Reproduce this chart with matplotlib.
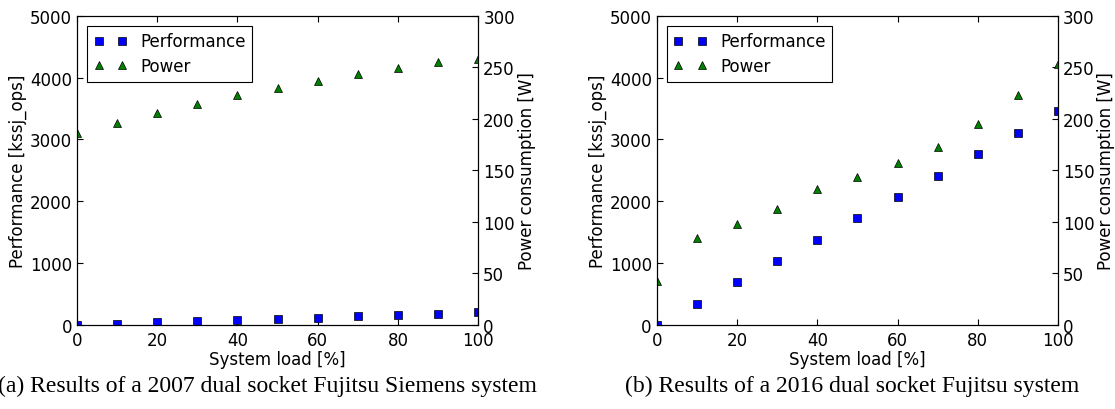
import matplotlib
matplotlib.use("Agg")
import matplotlib.pyplot as plt

load = [0, 10, 20, 30, 40, 50, 60, 70, 80, 90, 100]

perf_2007 = [0, 22, 43, 59, 76, 97, 119, 140, 162, 184, 205]
power_2007 = [186, 196, 206, 214, 223, 230, 237, 244, 249, 255, 258]

perf_2016 = [0, 346, 692, 1032, 1378, 1724, 2070, 2416, 2757, 3108, 3454]
power_2016 = [43, 84, 98, 113, 132, 144, 157, 173, 195, 223, 253]

captions = ["(a) Results of a 2007 dual socket Fujitsu Siemens system",
            "(b) Results of a 2016 dual socket Fujitsu system"]

plt.rcParams["font.family"] = "DejaVu Sans"
plt.rcParams["font.size"] = 12
plt.rcParams["xtick.direction"] = "in"
plt.rcParams["ytick.direction"] = "in"
plt.rcParams["xtick.top"] = True
plt.rcParams["xtick.major.size"] = 4
plt.rcParams["ytick.major.size"] = 4

fig = plt.figure(figsize=(11.15, 4.1), dpi=100)

panels = [(0.069, 0.240, perf_2007, power_2007),
          (0.589, 0.764, perf_2016, power_2016)]

for i, (left, cap_x, perf, power) in enumerate(panels):
    ax = fig.add_axes([left, 0.205, 0.36, 0.754])
    ax2 = ax.twinx()
    l1, = ax.plot(load, perf, "s", color="b", mec="k", mew=0.5, ms=5.5,
                  label="Performance")
    l2, = ax2.plot(load, power, "^", color="g", mec="k", mew=0.5, ms=5.5,
                   label="Power")
    ax.set_xlim(0, 100)
    ax.set_ylim(0, 5000)
    ax2.set_ylim(0, 300)
    ax.set_xticks(range(0, 101, 20))
    ax.set_yticks(range(0, 5001, 1000))
    ax2.set_yticks(range(0, 301, 50))
    ax.set_xlabel("System load [%]", labelpad=1)
    ax.set_ylabel("Performance [kssj_ops]", labelpad=2)
    ax2.set_ylabel("Power consumption [W]", labelpad=2)
    ax.tick_params(axis="x", pad=4)
    leg = ax.legend([l1, l2], ["Performance", "Power"], loc="upper left",
                    numpoints=2, fancybox=False, framealpha=1,
                    edgecolor="k", fontsize=12, borderaxespad=0.6,
                    handletextpad=0.8, labelspacing=0.4)
    leg.get_frame().set_linewidth(0.8)
    fig.text(cap_x, 0.058, captions[i], ha="center", va="center",
             family="Liberation Serif", fontsize=17)

fig.savefig("out.png", dpi=100)
